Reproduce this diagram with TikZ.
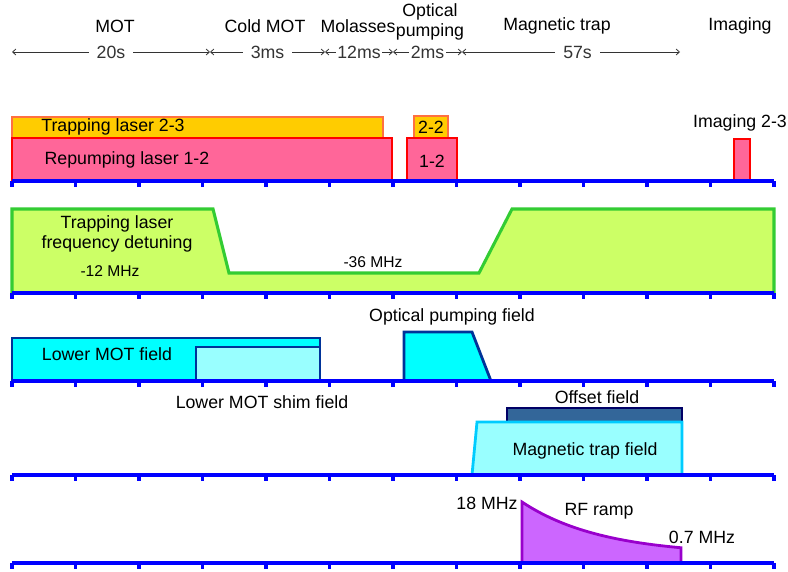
\documentclass[tikz,border=0pt]{standalone}
\usepackage{fontspec}
\setmainfont{Liberation Sans}
\usepackage{tikz}
\usetikzlibrary{arrows.meta}
\usepackage{xcolor}
\definecolor{TrapFill}{HTML}{FFCC00}
\definecolor{TrapEdge}{HTML}{FF7040}
\definecolor{RepFill}{HTML}{FF6699}
\definecolor{RepEdge}{HTML}{FF0000}
\definecolor{DetFill}{HTML}{CCFF66}
\definecolor{DetEdge}{HTML}{33CC33}
\definecolor{MotFill}{HTML}{00FFFF}
\definecolor{ShimFill}{HTML}{99FFFF}
\definecolor{MotEdge}{HTML}{003399}
\definecolor{OffFill}{HTML}{336699}
\definecolor{OffEdge}{HTML}{000066}
\definecolor{MagEdge}{HTML}{00CCFF}
\definecolor{RfFill}{HTML}{CC66FF}
\definecolor{RfEdge}{HTML}{9900CC}
\definecolor{AxisBlue}{HTML}{0000FF}

\begin{document}
\begin{tikzpicture}[x=0.75pt,y=-0.75pt,>={Straight Barb[length=2.5pt,width=4.5pt]},
  every node/.style={font=\fontsize{13.3}{15}\selectfont,inner sep=1pt},
  small/.style={font=\fontsize{11.7}{13}\selectfont},
  dur/.style={fill=white,inner ysep=1pt,inner xsep=6pt},
  span/.style={<->,line width=0.6pt,black!80},
  timeaxis/.style={draw=AxisBlue,line width=2.5pt}]
  \useasboundingbox (0,0) rectangle (788,571);

  \node (mot) at (115,26) {MOT};
  \node (cmot) at (265,26) {Cold MOT};
  \node (mol) at (358,26) {Molasses};
  \node[align=center] (opt) at (430,22) {Optical\\pumping};
  \node (mtrap) at (557,26) {Magnetic trap};
  \node (img) at (740,26) {Imaging};
  \foreach \n/\x in {0/12,1/210,2/325,3/393,4/462,5/680}
    \coordinate (b\n) at (\x,52);
  \draw[span] (b0) -- node[dur] (d0) {20s} (b1);
  \draw[span] (b1) -- node[dur] (d1) {3ms} (b2);
  \draw[span] (b2) -- node[dur,inner xsep=1pt] (d2) {12ms} (b3);
  \draw[span] (b3) -- node[dur,inner xsep=1pt] (d3) {2ms} (b4);
  \draw[span] (b4) -- node[dur,pos=0.53] (d4) {57s} (b5);

  \draw[fill=TrapFill,draw=TrapEdge,line width=1.8pt] (12,117) rectangle (383,140);
  \draw[fill=RepFill,draw=RepEdge,line width=2.1pt] (12,138) rectangle (392,181);
  \draw[fill=TrapFill,draw=TrapEdge,line width=1.8pt] (414,116) rectangle (448,138);
  \draw[fill=RepFill,draw=RepEdge,line width=2.1pt] (407,138) rectangle (457,181);
  \draw[fill=RepFill,draw=RepEdge,line width=2.1pt] (734,139) rectangle (750,181);
  \node (trap) at (113,127) {Trapping laser 2-3};
  \node (rep) at (127,160) {Repumping laser 1-2};
  \node (tr22) at (431,127) {2-2};
  \node (rp12) at (432,161) {1-2};
  \node (img23) at (740,123) {Imaging 2-3};

  \draw[fill=DetFill,draw=DetEdge,line width=2.3pt] (12,293) -- (12,209) -- (213,209)
    -- (229,273) -- (479,273) -- (512,209) -- (774,209) -- (774,293) -- cycle;
  \node[align=center] (det) at (117,234) {Trapping laser\\frequency detuning};
  \node[small] (det12) at (110,271) {-12 MHz};
  \node[small] (det36) at (373,262) {-36 MHz};

  \draw[fill=MotFill,draw=MotEdge,line width=2.1pt] (12,338) rectangle (320,381);
  \draw[fill=ShimFill,draw=MotEdge,line width=2.1pt] (196,347) rectangle (320,381);
  \draw[fill=MotFill,draw=MotEdge,line width=2.1pt] (404,381) -- (404,332) -- (472,332)
    -- (491,381) -- cycle;
  \node (lmot) at (107,354) {Lower MOT field};
  \node (shim) at (262,402) {Lower MOT shim field};
  \node (opf) at (452,317) {Optical pumping field};

  \draw[fill=OffFill,draw=OffEdge,line width=2.1pt] (507,408) rectangle (682,422);
  \draw[fill=ShimFill,draw=MagEdge,line width=2.1pt] (472,475) -- (477,422) -- (682,422)
    -- (682,475) -- cycle;
  \node (off) at (597,397) {Offset field};
  \node (mag) at (585,451) {Magnetic trap field};

  \draw[fill=RfFill,draw=RfEdge,line width=2.1pt] (522,563) -- (522,502)
    -- plot[domain=522:681,samples=40] (\x,{555-53*exp(-(\x-522)/80)})
    -- (681,563) -- cycle;
  \node (rf18) at (487,503) {18 MHz};
  \node (rframp) at (599,511) {RF ramp};
  \node (rf07) at (702,537) {0.7 MHz};

  \foreach \y in {181,293,381,475,563}{
    \draw[timeaxis] (12,\y) -- (774,\y);
    \foreach \i in {0,...,12}
      \draw[timeaxis] (12+63.5*\i,\y) -- ++(0,6);
  }
\end{tikzpicture}
\end{document}
